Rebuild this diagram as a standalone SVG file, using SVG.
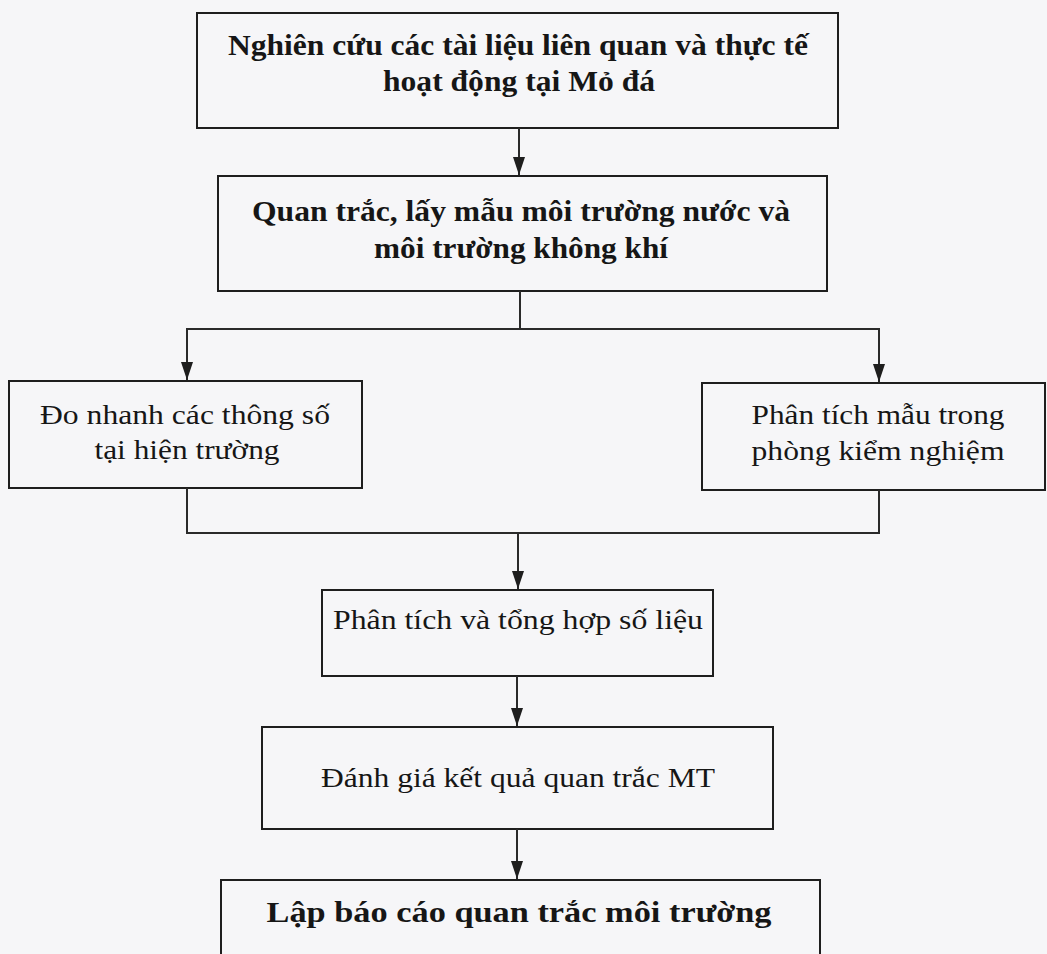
<svg xmlns="http://www.w3.org/2000/svg" width="1047" height="954" viewBox="0 0 1047 954">
<defs>
<marker id="ah" markerWidth="18" markerHeight="12" refX="18" refY="6" orient="auto-start-reverse" markerUnits="userSpaceOnUse" viewBox="0 0 18 12">
<path d="M0,0 L18,6 L0,12 Z" fill="#1e1e1e"/>
</marker>
<style>
.box{fill:none;stroke:#1e1e1e;stroke-width:2}
.ln{fill:none;stroke:#2a2a2a;stroke-width:2}
.b{font-family:"Liberation Serif","Times New Roman",serif;font-weight:bold;font-size:29px;fill:#161616;text-anchor:middle}
.n{font-family:"Liberation Serif","Times New Roman",serif;font-size:27px;fill:#161616;text-anchor:middle}
</style>
</defs>
<rect width="1047" height="954" fill="#f6f6f8"/>
<g id="n1">
<rect class="box" x="197" y="13" width="641" height="115"/>
<text class="b" x="518" y="55" textLength="580" lengthAdjust="spacingAndGlyphs">Nghiên cứu các tài liệu liên quan và thực tế</text>
<text class="b" x="519" y="91" textLength="272" lengthAdjust="spacingAndGlyphs">hoạt động tại Mỏ đá</text>
</g>
<g id="n2">
<rect class="box" x="218" y="176" width="609" height="115"/>
<text class="b" x="521" y="221" textLength="538" lengthAdjust="spacingAndGlyphs">Quan trắc, lấy mẫu môi trường nước và</text>
<text class="b" x="521" y="258" textLength="294" lengthAdjust="spacingAndGlyphs">môi trường không khí</text>
</g>
<g id="n3">
<rect class="box" x="9" y="381" width="353" height="107"/>
<text class="n" x="185" y="424" textLength="290" lengthAdjust="spacingAndGlyphs">Đo nhanh các thông số</text>
<text class="n" x="187" y="459" textLength="185" lengthAdjust="spacingAndGlyphs">tại hiện trường</text>
</g>
<g id="n4">
<rect class="box" x="702" y="383" width="343" height="107"/>
<text class="n" x="878" y="424" textLength="253" lengthAdjust="spacingAndGlyphs">Phân tích mẫu trong</text>
<text class="n" x="878" y="460" textLength="253" lengthAdjust="spacingAndGlyphs">phòng kiểm nghiệm</text>
</g>
<g id="n5">
<rect class="box" x="322" y="590" width="391" height="86"/>
<text class="n" x="518" y="629" textLength="370" lengthAdjust="spacingAndGlyphs">Phân tích và tổng hợp số liệu</text>
</g>
<g id="n6">
<rect class="box" x="262" y="727" width="511" height="102"/>
<text class="n" x="518" y="787" textLength="394" lengthAdjust="spacingAndGlyphs">Đánh giá kết quả quan trắc MT</text>
</g>
<g id="n7">
<rect class="box" x="221" y="880" width="599" height="90"/>
<text class="b" x="519" y="922" textLength="505" lengthAdjust="spacingAndGlyphs">Lập báo cáo quan trắc môi trường</text>
</g>
<g id="connectors">
<line class="ln" x1="519" y1="128" x2="519" y2="175" marker-end="url(#ah)"/>
<line class="ln" x1="520" y1="291" x2="520" y2="329"/>
<polyline class="ln" points="187,380 187,329 879,329 879,382" marker-start="url(#ah)" marker-end="url(#ah)"/>
<polyline class="ln" points="187,488 187,533 879,533 879,490"/>
<line class="ln" x1="518" y1="533" x2="518" y2="589" marker-end="url(#ah)"/>
<line class="ln" x1="517" y1="676" x2="517" y2="726" marker-end="url(#ah)"/>
<line class="ln" x1="517" y1="829" x2="517" y2="879" marker-end="url(#ah)"/>
</g>
</svg>
